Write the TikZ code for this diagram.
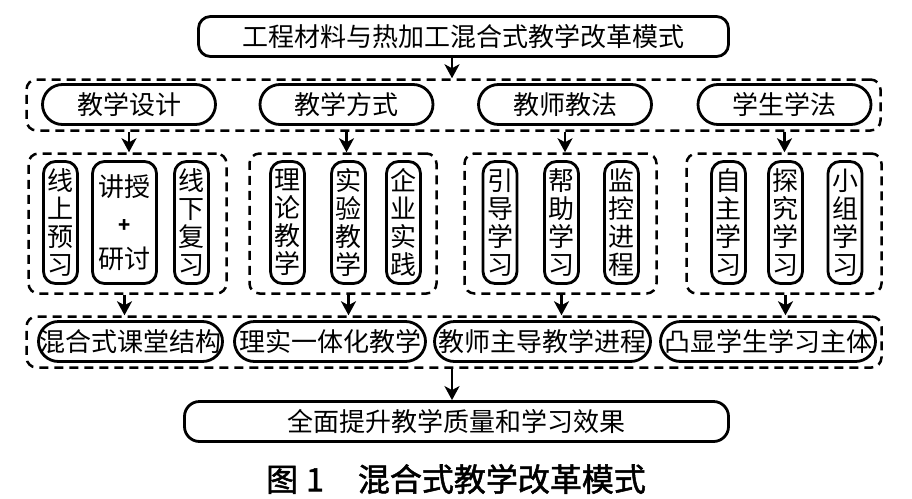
\documentclass[tikz,border=0pt]{standalone}
\usepackage{fontspec}
\newfontfamily\cjk{Noto Sans CJK SC}
\newfontfamily\cjkcap[FakeBold=1.6]{Noto Sans CJK SC}
\usetikzlibrary{arrows.meta}
\begin{document}
\begin{tikzpicture}[x=1pt,y=-1pt,
  txt/.style={font=\cjk\fontsize{26}{28}\selectfont},
  sbox/.style={draw, line width=2.8pt, inner sep=0pt, txt},
  pill/.style={sbox, rounded corners=20pt, minimum height=40pt},
  vpill/.style={sbox, rounded corners=12pt, minimum width=34pt, minimum height=122pt, align=center},
  dbox/.style={draw, line width=2.5pt, dash pattern=on 9pt off 6pt, rounded corners=10pt, inner sep=0pt},
  arr/.style={-{Stealth[length=14pt,width=15pt,inset=4pt]}, line width=2.5pt}
]
\useasboundingbox (0,0) rectangle (912,498);
% top
\node[sbox, rounded corners=12pt, minimum width=530pt, minimum height=40pt] (top) at (463.5,36.5) {工程材料与热加工混合式教学改革模式};
% dashed containers
\node[dbox, minimum width=854pt, minimum height=51pt] (D1) at (453.5,105) {};
\node[dbox, minimum width=198pt, minimum height=140pt] (G1) at (127.5,223.5) {};
\node[dbox, minimum width=187pt, minimum height=140pt] (G2) at (343,223.5) {};
\node[dbox, minimum width=192pt, minimum height=140pt] (G3) at (560.5,223.5) {};
\node[dbox, minimum width=195pt, minimum height=140pt] (G4) at (784,223.5) {};
\node[dbox, minimum width=855pt, minimum height=51pt] (D2) at (454,342) {};
% category pills
\node[pill, minimum width=173pt] (C1) at (129,104.5) {教学设计};
\node[pill, minimum width=173pt] (C2) at (346.5,104.5) {教学方式};
\node[pill, minimum width=173pt] (C3) at (565,104.5) {教师教法};
\node[pill, minimum width=173pt] (C4) at (784.5,104.5) {学生学法};
% vertical pills
\node[vpill] (V11) at (60.5,222.5) {线\\上\\预\\习};
\node[vpill, minimum width=64pt] (V12) at (124.5,222.5) {讲授\\[8pt]{\bfseries\fontsize{20}{28}\selectfont +}\\[8pt]研讨};
\node[vpill] (V13) at (191.5,222.5) {线\\下\\复\\习};
\node[vpill] (V21) at (287.5,222.5) {理\\论\\教\\学};
\node[vpill] (V22) at (348.5,222.5) {实\\验\\教\\学};
\node[vpill] (V23) at (403.5,222.5) {企\\业\\实\\践};
\node[vpill] (V31) at (500,222.5) {引\\导\\学\\习};
\node[vpill] (V32) at (561.5,222.5) {帮\\助\\学\\习};
\node[vpill] (V33) at (621.5,222.5) {监\\控\\进\\程};
\node[vpill] (V41) at (728.5,222.5) {自\\主\\学\\习};
\node[vpill] (V42) at (785.5,222.5) {探\\究\\学\\习};
\node[vpill] (V43) at (845,222.5) {小\\组\\学\\习};
% bottom pills
\node[pill, minimum width=184pt] (B1) at (130.5,341.5) {混合式课堂结构};
\node[pill, minimum width=191pt] (B2) at (330,341.5) {理实一体化教学};
\node[pill, minimum width=216pt] (B3) at (542.5,341.5) {教师主导教学进程};
\node[pill, minimum width=215pt] (B4) at (768,341.5) {凸显学生学习主体};
% final
\node[sbox, rounded corners=15pt, minimum width=544pt, minimum height=40pt] (F) at (456.5,421.5) {全面提升教学质量和学习效果};
% caption
\node[font=\cjkcap\fontsize{32}{32}\selectfont, inner sep=0pt] (cap) at (456,479) {图\hspace{8pt}1\hspace{34pt}混合式教学改革模式};
% arrows
\coordinate (a1) at ([xshift=-11.5pt]top.south);
\draw[arr] (a1) -- (a1 |- D1.north);
\draw[arr] (C1 |- D1.south) -- (C1 |- G1.north);
\draw[arr] (C2 |- D1.south) -- (C2 |- G2.north);
\draw[arr] (C3 |- D1.south) -- (C3 |- G3.north);
\draw[arr] (C4 |- D1.south) -- (C4 |- G4.north);
\draw[arr] (V12 |- G1.south) -- (V12 |- D2.north);
\draw[arr] (V22 |- G2.south) -- (V22 |- D2.north);
\draw[arr] (V32 |- G3.south) -- (V32 |- D2.north);
\draw[arr] (V42 |- G4.south) -- (V42 |- D2.north);
\draw[arr] (a1 |- D2.south) -- (a1 |- F.north);
\end{tikzpicture}
\end{document}
